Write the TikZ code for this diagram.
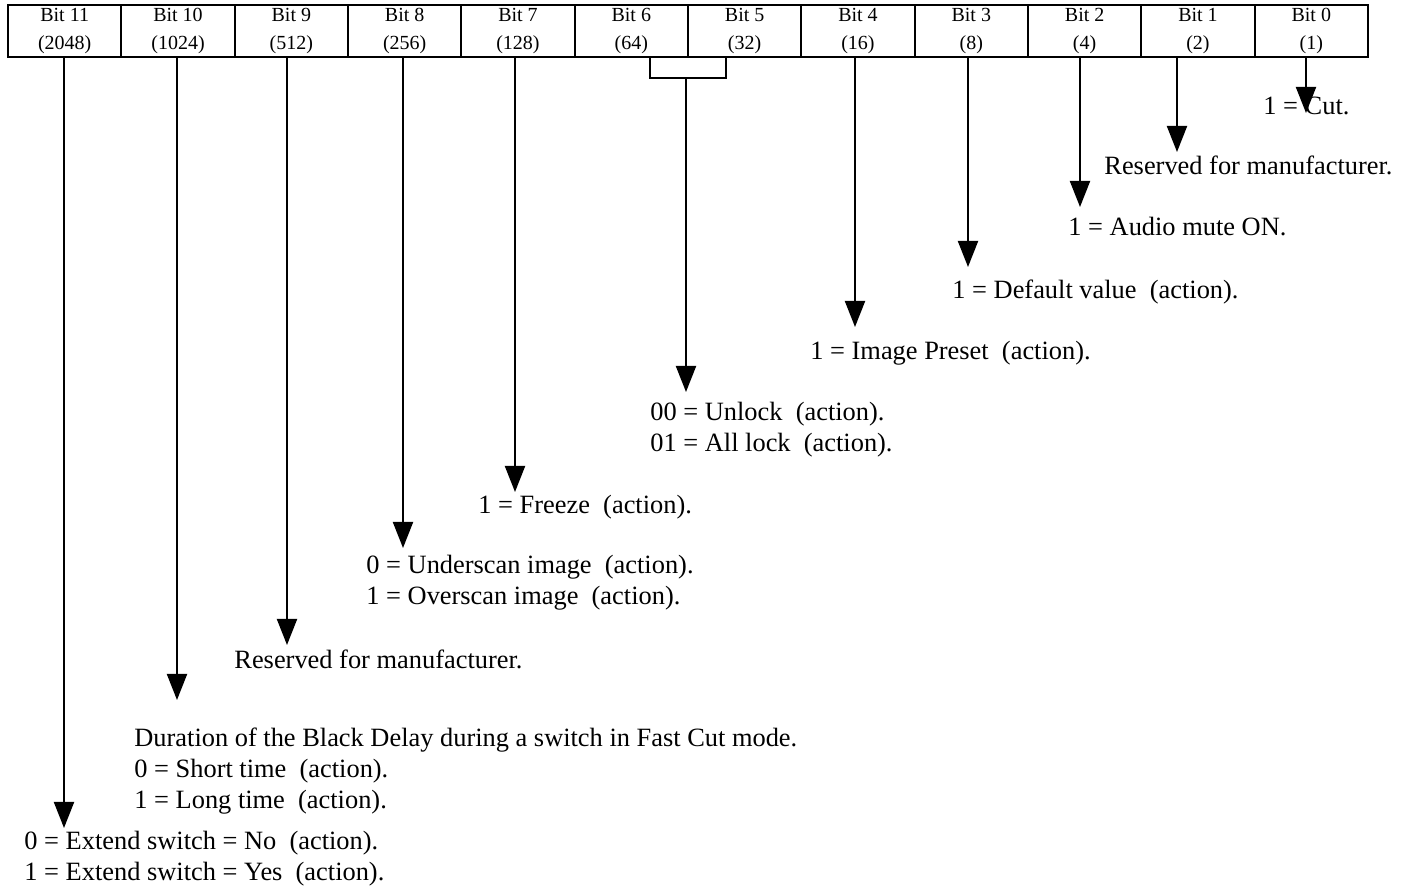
\documentclass[tikz,border=0pt]{standalone}
\usepackage{fontspec}
\setmainfont{Liberation Serif}
\usetikzlibrary{arrows.meta}

\begin{document}
\begin{tikzpicture}[x=0.5pt,y=-0.5pt,>={Triangle[length=13pt,width=10pt]},
  bitcell/.style={draw,line width=1pt,minimum width=56.67pt,minimum height=26pt,inner sep=0pt,align=center,font=\fontsize{10}{14}\selectfont},
  bitarrow/.style={->,line width=1pt},
  note/.style={anchor=base west,inner sep=0pt,align=left,font=\fontsize{13.2}{15.5}\selectfont}]
\useasboundingbox (0,0) rectangle (1410,886);
% register cells, Bit 11 on the left
\foreach \b/\v [count=\k from 0] in {11/2048,10/1024,9/512,8/256,7/128,6/64,5/32,4/16,3/8,2/4,1/2,0/1}
  \node[bitcell] (b\b) at (64.67+113.33*\k,31) {\raisebox{-1pt}{Bit \b}\\\raisebox{-1pt}{(\v)}};
% descriptions (base = last line)
\node[note] (t0) at (1263,115) {1 = Cut.};
\node[note] (t1) at (1104,175) {Reserved for manufacturer.};
\node[note] (t2) at (1068,236) {1 = Audio mute ON.};
\node[note] (t3) at (952,299) {1 = Default value\ \ (action).};
\node[note] (t4) at (810,360) {1 = Image Preset\ \ (action).};
\node[note] (t65) at (650,452) {00 = Unlock\ \ (action).\\01 = All lock\ \ (action).};
\node[note] (t7) at (478,514) {1 = Freeze\ \ (action).};
\node[note] (t8) at (366,605) {0 = Underscan image\ \ (action).\\1 = Overscan image\ \ (action).};
\node[note] (t9) at (234,669) {Reserved for manufacturer.};
\node[note] (t10) at (134,809) {Duration of the Black Delay during a switch in Fast Cut mode.\\0 = Short time\ \ (action).\\1 = Long time\ \ (action).};
\node[note] (t11) at (24,881) {0 = Extend switch = No\ \ (action).\\1 = Extend switch = Yes\ \ (action).};
% arrow tips
\coordinate (e0) at (1306,113);
\coordinate (e1) at (1177,152);
\coordinate (e2) at (1080,207);
\coordinate (e3) at (968,267);
\coordinate (e4) at (855,327);
\coordinate (e65) at (686,392);
\coordinate (e7) at (515,492);
\coordinate (e8) at (403,548);
\coordinate (e9) at (287,645);
\coordinate (e10) at (177,700);
\coordinate (e11) at (64,828);
\draw[bitarrow] (b0.south -| e0) -- (e0);
\draw[bitarrow] (b1.south -| e1) -- (e1);
\draw[bitarrow] (b2.south -| e2) -- (e2);
\draw[bitarrow] (b3.south -| e3) -- (e3);
\draw[bitarrow] (b4.south -| e4) -- (e4);
\draw[bitarrow] (b7.south -| e7) -- (e7);
\draw[bitarrow] (b8.south -| e8) -- (e8);
\draw[bitarrow] (b9.south -| e9) -- (e9);
\draw[bitarrow] (b10.south -| e10) -- (e10);
\draw[bitarrow] (b11.south -| e11) -- (e11);
% bits 6 and 5 together
\coordinate (k65) at (686,78);
\draw[line width=1pt] (b6.south -| 650,0) |- (726,78) -- (b5.south -| 726,0);
\draw[bitarrow] (k65) -- (e65);
\end{tikzpicture}
\end{document}
